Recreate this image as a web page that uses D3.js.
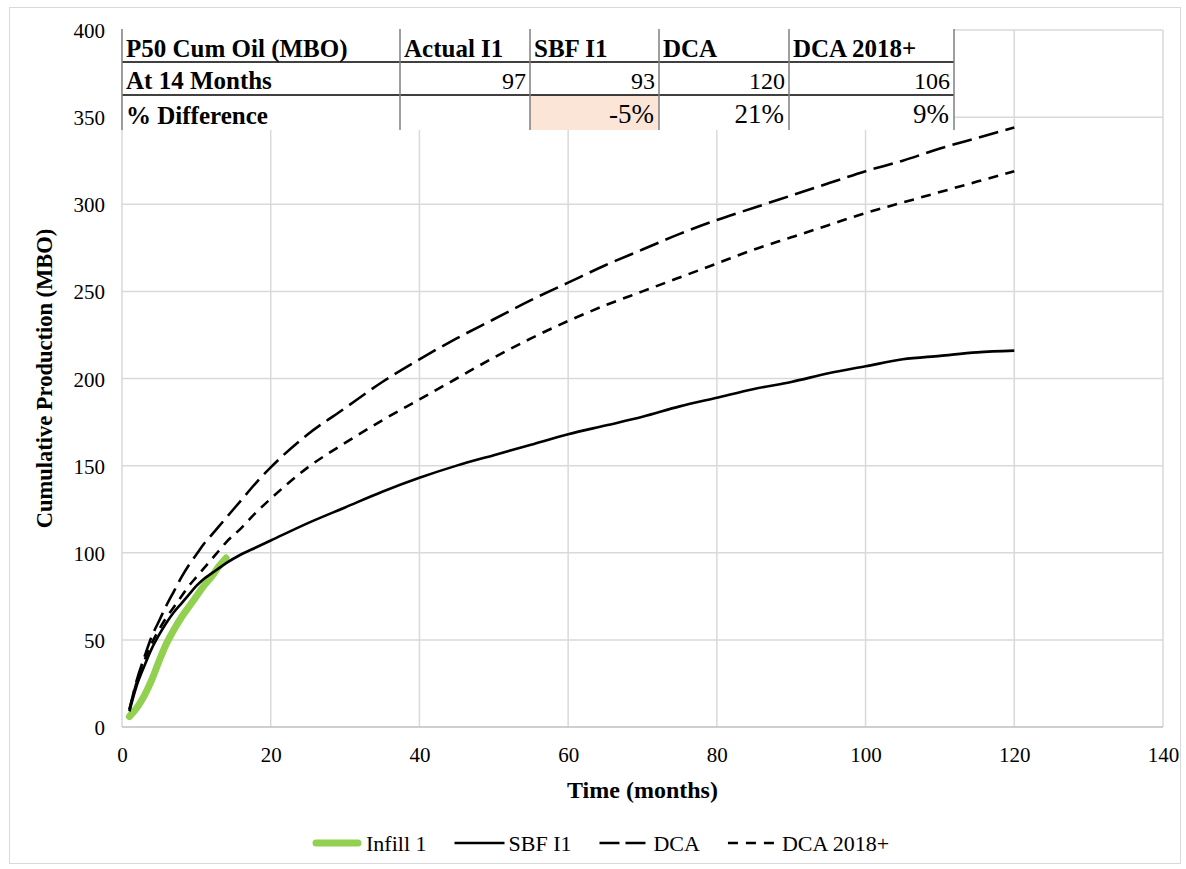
<!DOCTYPE html>
<html>
<head>
<meta charset="utf-8">
<script src="https://cdn.jsdelivr.net/npm/d3@7"></script>
<style>
  body { margin: 0; background: #fff; }
  svg text { font-family: "Liberation Serif", "DejaVu Serif", serif; fill: #000; }
</style>
</head>
<body>
<svg id="chart"></svg>
<script>
// data
const infillMonths = [1, 2, 3, 4, 5, 6, 7, 8, 9, 10, 11, 12, 13, 14];
const infill1 = [6, 11, 18, 27, 38, 48, 56, 63, 69, 75, 81, 86, 92, 97];

const modelMonths = [1, 2, 3, 4, 5, 6, 7, 8, 9, 10, 11, 12, 13, 14, 16, 18, 20, 25, 30, 35, 40,
  45, 50, 55, 60, 65, 70, 75, 80, 85, 90, 95, 100, 105, 110, 115, 120];
const sbfI1 = [9, 24, 35, 45, 53, 60, 66, 71, 76, 81, 85, 88, 91, 94, 99, 103, 107, 117, 126, 135, 143,
  150, 156, 162, 168, 173, 178, 184, 189, 194, 198, 203, 207, 211, 213, 215, 216];
const dca = [10, 27, 40, 52, 61, 70, 78, 86, 93, 99, 105, 110, 115, 120, 130, 140, 149, 168, 183, 198, 211,
  223, 234, 245, 255, 265, 274, 283, 291, 298, 305, 312, 319, 325, 332, 338, 344];
const dca2018 = [10, 26, 38, 48, 56, 63, 69, 75, 81, 86, 91, 96, 101, 106, 114, 123, 131, 149, 163, 176, 188,
  200, 212, 223, 233, 242, 250, 258, 266, 274, 281, 288, 295, 301, 307, 313, 319];

const xTicks = [0, 20, 40, 60, 80, 100, 120, 140];
const yTicks = [0, 50, 100, 150, 200, 250, 300, 350, 400];

const tableHeader = ['P50 Cum Oil (MBO)', 'Actual I1', 'SBF I1', 'DCA', 'DCA 2018+'];
const rowLabels = ['At 14 Months', '% Difference'];
const cumAt14 = [97, 93, 120, 106];
const pctDiff = ['', '-5%', '21%', '9%'];

const seriesNames = ['Infill 1', 'SBF I1', 'DCA', 'DCA 2018+'];

// styles per series
const styles = {
  'Infill 1': { stroke: '#92d050', width: 7, dash: null, cap: 'round' },
  'SBF I1': { stroke: '#000', width: 2.6, dash: null, cap: 'butt' },
  'DCA': { stroke: '#000', width: 2.6, dash: '20,7.5', cap: 'butt' },
  'DCA 2018+': { stroke: '#000', width: 2.6, dash: '10,7.5', cap: 'butt' }
};

const width = 1186, height = 869;
const svg = d3.select('#chart').attr('width', width).attr('height', height);

// chart area border
svg.append('rect')
  .attr('x', 9.5).attr('y', 7.5).attr('width', 1171).attr('height', 856)
  .attr('fill', '#fff').attr('stroke', '#d9d9d9').attr('stroke-width', 1);

const x = d3.scaleLinear().domain([0, 140]).range([122, 1163]);
const y = d3.scaleLinear().domain([0, 400]).range([727, 30]);

// gridlines
svg.append('g').selectAll('line').data(yTicks.slice(1)).enter().append('line')
  .attr('x1', x(0)).attr('x2', x(140))
  .attr('y1', d => y(d)).attr('y2', d => y(d))
  .attr('stroke', '#d9d9d9').attr('stroke-width', 1.5);
svg.append('g').selectAll('line').data(xTicks).enter().append('line')
  .attr('x1', d => x(d)).attr('x2', d => x(d))
  .attr('y1', y(0)).attr('y2', y(400))
  .attr('stroke', '#d9d9d9').attr('stroke-width', 1.5);
svg.append('line')
  .attr('x1', x(0)).attr('x2', x(140)).attr('y1', y(0)).attr('y2', y(0))
  .attr('stroke', '#bfbfbf').attr('stroke-width', 1.5);

// axes (labels only)
const xAxis = svg.append('g').attr('transform', `translate(0,${y(0)})`)
  .call(d3.axisBottom(x).tickValues(xTicks).tickSize(0).tickPadding(20));
const yAxis = svg.append('g').attr('transform', `translate(${x(0)},0)`)
  .call(d3.axisLeft(y).tickValues(yTicks).tickSize(0).tickPadding(17));
[xAxis, yAxis].forEach(a => {
  a.attr('font-family', null).attr('font-size', null);
  a.select('.domain').remove();
  a.selectAll('text').style('font-size', '21px');
});
yAxis.selectAll('text').attr('dy', '0.36em');

svg.append('text')
  .attr('x', (x(0) + x(140)) / 2).attr('y', 798)
  .attr('text-anchor', 'middle')
  .style('font-size', '24px').style('font-weight', 'bold')
  .text('Time (months)');
svg.append('text')
  .attr('transform', `translate(52,${(y(0) + y(400)) / 2}) rotate(-90)`)
  .attr('text-anchor', 'middle')
  .style('font-size', '22.5px').style('font-weight', 'bold')
  .text('Cumulative Production (MBO)');

// curves
const line = d3.line().x(d => x(d[0])).y(d => y(d[1])).curve(d3.curveMonotoneX);
const seriesData = {
  'Infill 1': infillMonths.map((m, i) => [m, infill1[i]]),
  'SBF I1': modelMonths.map((m, i) => [m, sbfI1[i]]),
  'DCA': modelMonths.map((m, i) => [m, dca[i]]),
  'DCA 2018+': modelMonths.map((m, i) => [m, dca2018[i]])
};
['DCA 2018+', 'DCA', 'Infill 1', 'SBF I1'].forEach(name => {
  const s = styles[name];
  svg.append('path')
    .datum(seriesData[name])
    .attr('d', line)
    .attr('fill', 'none')
    .attr('stroke', s.stroke)
    .attr('stroke-width', s.width)
    .attr('stroke-linecap', s.cap)
    .attr('stroke-linejoin', 'round')
    .attr('stroke-dasharray', s.dash);
});

// table overlay
const colEdges = [122, 400, 530, 659, 789, 954];
const rowEdges = [29, 62, 95, 130];
const table = svg.append('g');
table.append('rect')
  .attr('x', colEdges[0]).attr('y', rowEdges[0])
  .attr('width', colEdges[5] - colEdges[0]).attr('height', rowEdges[3] - rowEdges[0])
  .attr('fill', '#fff');
table.append('rect')
  .attr('x', colEdges[2]).attr('y', rowEdges[2])
  .attr('width', colEdges[3] - colEdges[2]).attr('height', rowEdges[3] - rowEdges[2])
  .attr('fill', '#fbe5d6');
table.selectAll('.hline').data([rowEdges[1], rowEdges[2]]).enter().append('line')
  .attr('x1', colEdges[0]).attr('x2', colEdges[5])
  .attr('y1', d => d).attr('y2', d => d)
  .attr('stroke', '#000').attr('stroke-width', 1.5);
table.selectAll('.vline').data(colEdges).enter().append('line')
  .attr('x1', d => d).attr('x2', d => d)
  .attr('y1', rowEdges[0]).attr('y2', rowEdges[3])
  .attr('stroke', '#7f7f7f').attr('stroke-width', 1.5);

tableHeader.forEach((t, i) => {
  table.append('text')
    .attr('x', colEdges[i] + 4).attr('y', 57)
    .style('font-size', '25px').style('font-weight', 'bold')
    .text(t);
});
rowLabels.forEach((t, i) => {
  table.append('text')
    .attr('x', colEdges[0] + 4).attr('y', i === 0 ? 89 : 124)
    .style('font-size', '25px').style('font-weight', 'bold')
    .text(t);
});
cumAt14.forEach((v, i) => {
  table.append('text')
    .attr('x', colEdges[i + 2] - 4).attr('y', 89)
    .attr('text-anchor', 'end')
    .style('font-size', '24px')
    .text(v);
});
pctDiff.forEach((v, i) => {
  table.append('text')
    .attr('x', colEdges[i + 2] - 5).attr('y', 123)
    .attr('text-anchor', 'end')
    .style('font-size', '27px')
    .text(v);
});

// legend
const legend = svg.append('g');
let lx = 312;
const ly = 843;
seriesNames.forEach(name => {
  const s = styles[name];
  legend.append('line')
    .attr('x1', lx + (s.cap === 'round' ? 4 : 0)).attr('x2', lx + 50 - (s.cap === 'round' ? 4 : 0))
    .attr('y1', ly).attr('y2', ly)
    .attr('stroke', s.stroke).attr('stroke-width', s.width)
    .attr('stroke-linecap', s.cap)
    .attr('stroke-dasharray', name === 'DCA' ? '20,6' : name === 'DCA 2018+' ? '10,8' : null);
  const t = legend.append('text')
    .attr('x', lx + 54).attr('y', ly).attr('dy', '0.35em')
    .style('font-size', '22px')
    .text(name);
  lx += 54 + t.node().getComputedTextLength() + 28;
});
</script>
</body>
</html>
